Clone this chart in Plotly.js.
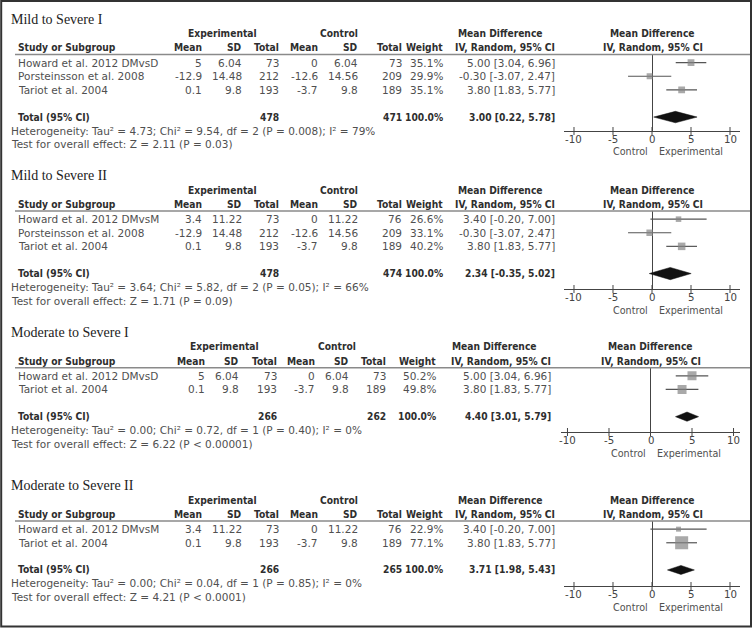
<!DOCTYPE html>
<html>
<head>
<meta charset="utf-8">
<script src="https://cdn.plot.ly/plotly-3.0.1.min.js"></script>
<style>html,body{margin:0;padding:0;background:#fff;}#chart{width:753px;height:628px;}</style>
</head>
<body>
<div id="chart"></div>
<script>
// ---------------- DATA ----------------
const panelTitles = ["Mild to Severe I", "Mild to Severe II", "Moderate to Severe I", "Moderate to Severe II"];
const studyNames = [
  ["Howard et al. 2012 DMvsD", "Porsteinsson et al. 2008", "Tariot et al. 2004"],
  ["Howard et al. 2012 DMvsM", "Porsteinsson et al. 2008", "Tariot et al. 2004"],
  ["Howard et al. 2012 DMvsD", "Tariot et al. 2004"],
  ["Howard et al. 2012 DMvsM", "Tariot et al. 2004"]
];
const expMean = [[5, -12.9, 0.1], [3.4, -12.9, 0.1], [5, 0.1], [3.4, 0.1]];
const expSD = [[6.04, 14.48, 9.8], [11.22, 14.48, 9.8], [6.04, 9.8], [11.22, 9.8]];
const expN = [[73, 212, 193], [73, 212, 193], [73, 193], [73, 193]];
const ctlMean = [[0, -12.6, -3.7], [0, -12.6, -3.7], [0, -3.7], [0, -3.7]];
const ctlSD = [[6.04, 14.56, 9.8], [11.22, 14.56, 9.8], [6.04, 9.8], [11.22, 9.8]];
const ctlN = [[73, 209, 189], [76, 209, 189], [73, 189], [76, 189]];
const weights = [[35.1, 29.9, 35.1], [26.6, 33.1, 40.2], [50.2, 49.8], [22.9, 77.1]];
const meanDiff = [[5.00, -0.30, 3.80], [3.40, -0.30, 3.80], [5.00, 3.80], [3.40, 3.80]];
const ciLow = [[3.04, -3.07, 1.83], [-0.20, -3.07, 1.83], [3.04, 1.83], [-0.20, 1.83]];
const ciHigh = [[6.96, 2.47, 5.77], [7.00, 2.47, 5.77], [6.96, 5.77], [7.00, 5.77]];
const totalExpN = [478, 478, 266, 266];
const totalCtlN = [471, 474, 262, 265];
const pooledMD = [3.00, 2.34, 4.40, 3.71];
const pooledLow = [0.22, -0.35, 3.01, 1.98];
const pooledHigh = [5.78, 5.02, 5.79, 5.43];
const tau2 = [4.73, 3.64, 0.00, 0.00];
const chi2 = [9.54, 5.82, 0.72, 0.04];
const dfHet = [2, 2, 1, 1];
const pHet = ["0.008", "0.05", "0.40", "0.85"];
const iSquared = [79, 66, 0, 0];
const zValue = [2.11, 1.71, 6.22, 4.21];
const pOverall = ["= 0.03", "= 0.09", "< 0.00001", "< 0.0001"];
const tickVals = [-10, -5, 0, 5, 10];
const tickLabels = ["-10", "-5", "0", "5", "10"];
const favoursLabels = ["Control", "Experimental"];

// ---------------- LAYOUT / STYLE ----------------
const W = 753, H = 628;
const fx = px => px / W;
const fy = py => 1 - py / H;
const FONT = "DejaVu Sans";
const BFONT = "DejaVu Sans Condensed, DejaVu Sans";
const REG = "#505050", BOLD = "#2e2e2e";
const lineY = [54.5, 211, 367.7, 521];
const axisY = [131, 289, 432, 586];
const pitch = 13.6, rowOff = 0.6;
const colsA = {x: [203.3, 242.7, 279.7, 319, 359.3, 402.7, 444.3, 555.7], exp: 222, ctl: 338.8, md: 500.5, forest: 652.8, dom: [564, 740], half: 11.28, fav: [630.5, 690.5]};
const colsB = {x: [205.7, 240, 277.7, 316, 350, 386.7, 436.7, 551.7], exp: 224, ctl: 336.5, md: 494, forest: 650.5, dom: [561, 740], half: 10.78, fav: [628.3, 689]};
const panelCols = [colsA, colsA, colsB, colsA];
const diamondHalf = [0.42, 0.45, 0.34, 0.33];

const traces = [];
const annotations = [];
const shapes = [];
const layout = {
  width: W, height: H,
  margin: {l: 0, r: 0, t: 0, b: 0},
  paper_bgcolor: "#ffffff", plot_bgcolor: "rgba(0,0,0,0)",
  showlegend: false,
  font: {family: FONT, size: 10.5, color: REG}
};

function ann(px, py, text, anchor, opts) {
  opts = opts || {};
  annotations.push({
    xref: opts.xref || "paper", yref: "paper", x: opts.xref ? px : fx(px), y: fy(py),
    xanchor: anchor, yanchor: "middle", showarrow: false, borderpad: 0,
    align: anchor === "center" ? "center" : anchor,
    text: text,
    font: {family: opts.family || (opts.bold ? BFONT : FONT), size: opts.size || (opts.bold ? 10.2 : 10.5),
           color: opts.color || (opts.bold ? BOLD : REG), weight: opts.bold ? 700 : 400}
  });
}

const fmt2 = v => v.toFixed(2);

for (let p = 0; p < 4; p++) {
  const c = panelCols[p];
  const n = studyNames[p].length;
  const ly = lineY[p];
  const rowPx = idx => ly + (idx + rowOff) * pitch;
  const totalIdx = n + 1;

  // title & headers
  ann(10, ly - 35.5, panelTitles[p], "left", {family: "Liberation Serif", size: 14, color: "#222"});
  ann(c.exp, ly - 21, "Experimental", "center", {bold: true});
  ann(c.ctl, ly - 21, "Control", "center", {bold: true});
  ann(c.md, ly - 21, "Mean Difference", "center", {bold: true});
  ann(c.forest, ly - 21, "Mean Difference", "center", {bold: true});
  ann(17, ly - 6.5, "Study or Subgroup", "left", {bold: true});
  const heads = ["Mean", "SD", "Total", "Mean", "SD", "Total", "Weight", "IV, Random, 95% CI"];
  heads.forEach((h, i) => ann(c.x[i], ly - 6.5, h, "right", {bold: true}));
  ann(c.forest, ly - 6.5, "IV, Random, 95% CI", "center", {bold: true});

  // header rule
  shapes.push({type: "line", xref: "paper", yref: "paper", x0: fx(15), x1: fx(750), y0: fy(ly), y1: fy(ly), line: {color: "#8a8a8a", width: 1.4}});

  // study rows
  for (let i = 0; i < n; i++) {
    const y = rowPx(i);
    ann(17, y, studyNames[p][i], "left");
    const cells = [String(expMean[p][i]), String(expSD[p][i]), String(expN[p][i]),
                   String(ctlMean[p][i]), String(ctlSD[p][i]), String(ctlN[p][i]),
                   weights[p][i].toFixed(1) + "%",
                   fmt2(meanDiff[p][i]) + " [" + fmt2(ciLow[p][i]) + ", " + fmt2(ciHigh[p][i]) + "]"];
    cells.forEach((t, k) => ann(c.x[k], y, t, "right"));
  }
  // total row
  const ty = rowPx(totalIdx);
  ann(17, ty, "Total (95% CI)", "left", {bold: true});
  ann(c.x[2], ty, String(totalExpN[p]), "right", {bold: true});
  ann(c.x[5], ty, String(totalCtlN[p]), "right", {bold: true});
  ann(c.x[6], ty, "100.0%", "right", {bold: true});
  ann(c.x[7], ty, fmt2(pooledMD[p]) + " [" + fmt2(pooledLow[p]) + ", " + fmt2(pooledHigh[p]) + "]", "right", {bold: true});
  ann(10, ty + 13.5, "Heterogeneity: Tau² = " + fmt2(tau2[p]) + "; Chi² = " + fmt2(chi2[p]) + ", df = " + dfHet[p] + " (P = " + pHet[p] + "); I² = " + iSquared[p] + "%", "left");
  ann(10, ty + 27, "Test for overall effect: Z = " + fmt2(zValue[p]) + " (P " + pOverall[p] + ")", "left");

  // forest axes
  const k = p + 1;
  const xa = k === 1 ? "x" : "x" + k;
  const ya = k === 1 ? "y" : "y" + k;
  const yBottom = (axisY[p] - ly) / pitch - rowOff;
  layout["xaxis" + (k === 1 ? "" : k)] = {
    domain: [fx(c.dom[0]), fx(c.dom[1])],
    range: [-c.half, c.half], anchor: ya,
    showgrid: false, zeroline: true, zerolinecolor: "#444", zerolinewidth: 1,
    showline: true, linecolor: "#444", linewidth: 1,
    ticks: "", showticklabels: false, fixedrange: true
  };
  layout["yaxis" + (k === 1 ? "" : k)] = {
    domain: [fy(axisY[p]), fy(ly)],
    range: [yBottom, -rowOff], anchor: xa,
    showgrid: false, zeroline: false, showline: false, showticklabels: false, ticks: "", fixedrange: true
  };
  tickVals.forEach((v, j) => {
    shapes.push({type: "line", xref: xa, yref: "paper", x0: v, x1: v, y0: fy(axisY[p] - 4), y1: fy(axisY[p] + 4), line: {color: "#444", width: 1}});
    ann(v, axisY[p] + 8.3, tickLabels[j], "center", {xref: xa, size: 10.2, color: "#444"});
  });
  ann(c.fav[0], axisY[p] + 21, favoursLabels[0], "center", {size: 9.6});
  ann(c.fav[1], axisY[p] + 21, favoursLabels[1], "center", {size: 9.6});

  // study markers with CI
  const idxs = studyNames[p].map((_, i) => i);
  traces.push({
    type: "scatter", mode: "markers", xaxis: xa, yaxis: ya,
    x: meanDiff[p], y: idxs,
    marker: {symbol: "square", color: "#858585", size: weights[p].map(w => 1.6 + 0.148 * w), line: {width: 0}},
    error_x: {type: "data", symmetric: false,
      array: meanDiff[p].map((m, i) => ciHigh[p][i] - m),
      arrayminus: meanDiff[p].map((m, i) => m - ciLow[p][i]),
      width: 0, thickness: 1.2, color: "#555"},
    hoverinfo: "skip"
  });
  // pooled diamond
  const h = diamondHalf[p];
  traces.push({
    type: "scatter", mode: "lines", xaxis: xa, yaxis: ya,
    x: [pooledLow[p], pooledMD[p], pooledHigh[p], pooledMD[p], pooledLow[p]],
    y: [totalIdx, totalIdx - h, totalIdx, totalIdx + h, totalIdx],
    fill: "toself", fillcolor: "#111", line: {color: "#111", width: 0.5},
    hoverinfo: "skip"
  });
}

// outer frame
shapes.push({type: "rect", xref: "paper", yref: "paper", x0: fx(1.2), x1: fx(751), y0: fy(1), y1: fy(626.5), line: {color: "#333", width: 2}});

layout.annotations = annotations;
layout.shapes = shapes;
Plotly.newPlot("chart", traces, layout, {displayModeBar: false, staticPlot: true});
</script>
</body>
</html>
